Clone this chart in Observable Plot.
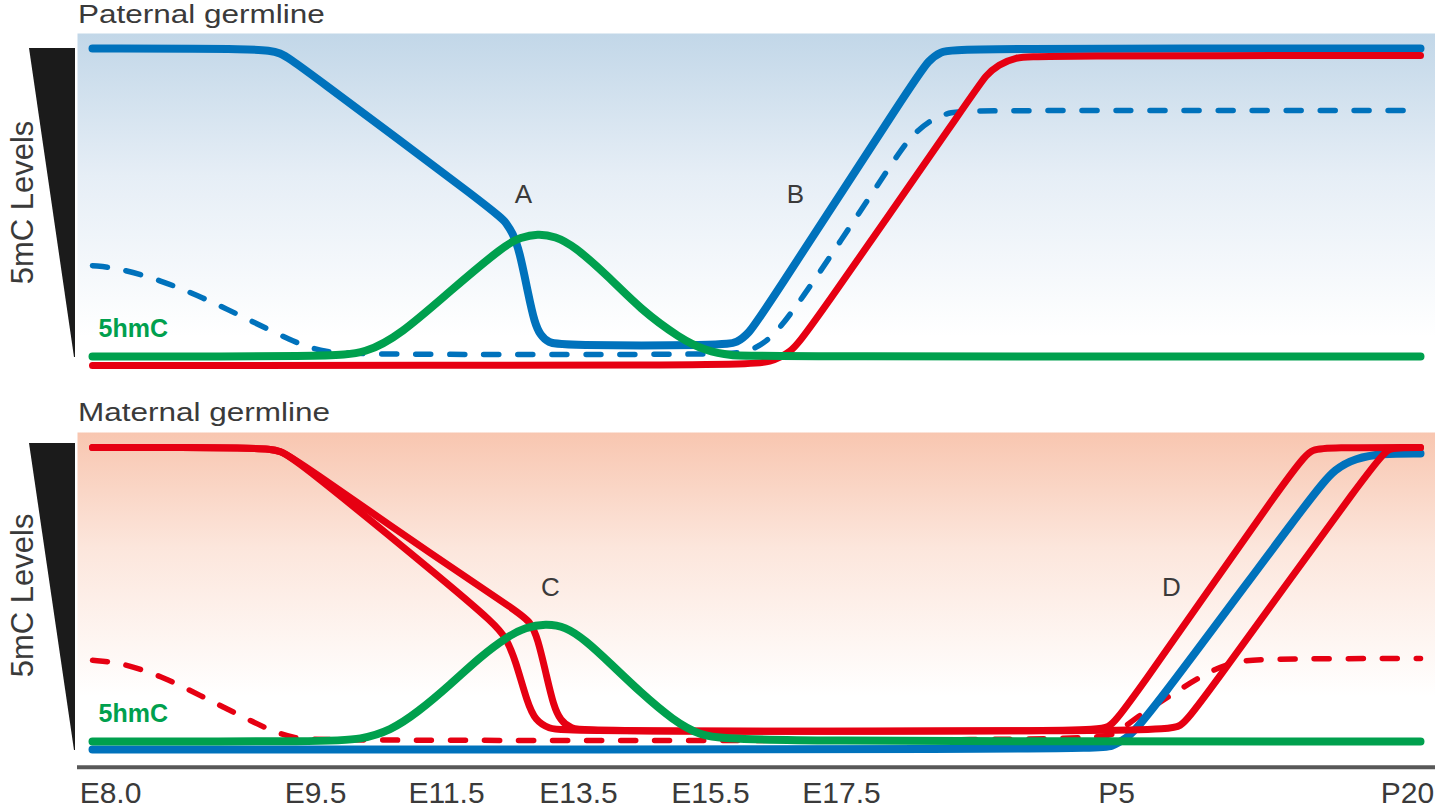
<!DOCTYPE html>
<html>
<head>
<meta charset="utf-8">
<script src="https://cdn.jsdelivr.net/npm/d3@7"></script>
<script src="https://cdn.jsdelivr.net/npm/@observablehq/plot@0.6"></script>
<style>
html, body { margin: 0; padding: 0; background: #fff; }
#root { position: relative; width: 1435px; height: 810px; overflow: hidden; font-family: "Liberation Sans", Arial, sans-serif; }
.ptitle { position: absolute; left: 78px; font-size: 25px; line-height: 25px; color: #3a3a3a; transform: scaleX(1.26); transform-origin: 0 0; white-space: nowrap; }
.panel { position: absolute; left: 0; }
</style>
</head>
<body>
<div id="root">
  <div class="panel" id="topPanel" style="top:0px"></div>
  <div class="panel" id="botPanel" style="top:400px"></div>
  <div class="ptitle" id="t1" style="top:2px"></div>
  <div class="ptitle" id="t2" style="top:400px"></div>
</div>
<script>
// ---------- DATA ----------
// x: position along the developmental timeline (schematic units), y: relative level (0 = baseline, 1 = max)
const xTickPos    = [11.0, 31.5, 44.6, 57.8, 71.0, 84.1, 111.6, 140.7];
const xTickLabels = ["E8.0", "E9.5", "E11.5", "E13.5", "E15.5", "E17.5", "P5", "P20"];

const panelTitles = ["Paternal germline", "Maternal germline"];
const yAxisLabel = "5mC Levels";
const hmcLabel = "5hmC";
const eventLabels = ["A", "B", "C", "D"];

// Paternal germline
const patBlue = [[9.2,1.000],[26.2,1.000],[28.0,0.987],[29.5,0.955],[50.0,0.458],[50.5,0.435],[51.2,0.403],[51.9,0.344],[52.8,0.198],[53.4,0.110],[54.0,0.068],[54.8,0.045],[56.0,0.036],[72.2,0.036],[73.7,0.045],[74.8,0.075],[76.0,0.127],[91.5,0.903],[92.8,0.961],[94.0,0.990],[95.5,1.000],[142,1.000]];
const patBlueDashed = [[9.2,0.295],[12.0,0.286],[16.0,0.247],[20.0,0.195],[25.0,0.117],[29.0,0.052],[32.0,0.016],[35.0,0.006],[72.0,0.006],[74.5,0.013],[76.5,0.042],[79.0,0.127],[89.3,0.636],[91.0,0.714],[93.0,0.769],[95.0,0.795],[97.5,0.799],[142,0.799]];
const patRed = [[9.2,-0.029],[74.5,-0.029],[77.0,-0.019],[79.0,0.013],[80.5,0.068],[97.5,0.864],[98.5,0.912],[99.8,0.948],[101.5,0.971],[103.5,0.977],[142,0.977]];
const pat5hmC = [[9.2,0],[33.0,0],[36.5,0.010],[40.0,0.071],[45.0,0.214],[50.5,0.364],[52.0,0.386],[53.7,0.399],[55.5,0.390],[57.3,0.360],[60.7,0.263],[64.0,0.153],[68.0,0.058],[70.5,0.019],[73.0,0.003],[76.0,0],[142,0]];

// Maternal germline
const matRedA = [[9.2,1.000],[26.2,1.000],[28.0,0.990],[29.8,0.952],[44.0,0.558],[49.5,0.398],[50.6,0.350],[51.5,0.276],[52.7,0.129],[53.5,0.071],[54.8,0.044],[56.5,0.034],[109.5,0.034],[110.8,0.048],[112.0,0.082],[130.0,0.966],[131.2,0.993],[132.8,1.000],[142,1.000]];
const matRedB = [[9.2,1.000],[26.2,1.000],[28.0,0.990],[29.8,0.952],[44.0,0.616],[52.0,0.435],[53.0,0.405],[53.7,0.354],[54.6,0.224],[55.3,0.122],[56.0,0.071],[57.0,0.044],[58.8,0.034],[116.5,0.034],[118.0,0.051],[119.3,0.095],[138.0,0.980],[139.0,0.997],[140.2,1.000],[142,1.000]];
const matBlue = [[9.2,-0.027],[109.5,-0.027],[111.2,-0.017],[112.5,0.010],[114.0,0.048],[131.5,0.854],[133.5,0.929],[135.5,0.963],[138.0,0.980],[142,0.980]];
const matRedDashed = [[9.2,0.276],[12.0,0.269],[16.0,0.224],[20.0,0.156],[24.0,0.088],[27.0,0.037],[29.5,0.010],[32.0,0.003],[109.5,0.003],[111.5,0.024],[113.7,0.085],[116.7,0.150],[120.3,0.228],[123.0,0.269],[125.5,0.282],[142,0.282]];
const mat5hmC = [[9.2,0],[33.0,0],[36.0,0.007],[39.0,0.037],[41.7,0.099],[45.0,0.194],[48.0,0.289],[50.7,0.357],[52.5,0.388],[54.5,0.401],[56.5,0.391],[58.5,0.344],[61.0,0.265],[64.0,0.167],[67.3,0.071],[70.0,0.020],[73.0,0],[142,0]];

// ---------- STYLE / LAYOUT ----------
const BLUE = "#0072bc", RED = "#e60012", GREEN = "#00a04e", INK = "#3a3a3a";
const FONT = "'Liberation Sans', Arial, Helvetica, sans-serif";
const X_DOMAIN = [9.2, 142], X_RANGE = [92, 1420];
const tickLabelOf = new Map(xTickPos.map((p, i) => [p, xTickLabels[i]]));

document.getElementById("t1").textContent = panelTitles[0];
document.getElementById("t2").textContent = panelTitles[1];

const pts = arr => arr.map(([x, v]) => ({x, v}));

function lineMark(arr, color, width, dashed) {
  return Plot.line(pts(arr), {
    x: "x", y: "v", stroke: color, strokeWidth: width, curve: "basis",
    strokeLinecap: "round", strokeLinejoin: "round",
    strokeDasharray: dashed ? "15,19" : null
  });
}

function makePanel(cfg) {
  const marks = [
    Plot.frame({fill: `url(#${cfg.gradId})`, stroke: "none"}),
    Plot.areaX(cfg.wedge, {y: "v", x1: "xl", x2: "xr", fill: "#1b1b1b"}),
    Plot.text([{x: 2.25, v: cfg.yLabelV, t: yAxisLabel}], {x: "x", y: "v", text: "t", rotate: -90, fontSize: 31, fill: INK}),
    ...cfg.lines,
    Plot.text(cfg.letters, {x: "x", y: "v", text: "t", fontSize: 26, fill: INK}),
    Plot.text([{x: 9.8, v: cfg.hmcV, t: hmcLabel}], {x: "x", y: "v", text: "t", textAnchor: "start", fontSize: 25, fontWeight: "bold", fill: GREEN})
  ];
  if (cfg.axisV !== undefined) {
    marks.push(Plot.ruleY([cfg.axisV], {x1: 7.7, x2: 143.5, stroke: "#585858", strokeWidth: 4}));
  }
  const svg = Plot.plot({
    width: 1435,
    height: cfg.height,
    marginTop: cfg.marginTop,
    marginBottom: cfg.marginBottom,
    marginLeft: 77,
    marginRight: 0,
    style: {fontFamily: FONT, fontSize: "30px", color: INK, background: "transparent", overflow: "visible"},
    x: cfg.showAxis
      ? {domain: X_DOMAIN, range: X_RANGE, ticks: xTickPos, tickFormat: d => tickLabelOf.get(d), tickSize: 0, tickPadding: 19, label: null, line: false}
      : {domain: X_DOMAIN, range: X_RANGE, axis: null},
    y: {domain: [0, 1], range: cfg.yRange, axis: null},
    marks
  });
  d3.select(svg).insert("defs", ":first-child").html(cfg.gradDef);
  return svg;
}

const topSvg = makePanel({
  height: 400, marginTop: 33, marginBottom: 10, yRange: [356, 48],
  gradId: "gTop",
  gradDef: `<linearGradient id="gTop" x1="0" y1="0" x2="0" y2="1">
      <stop offset="0" stop-color="#c2d7e8"/><stop offset="0.4" stop-color="#e6eef6"/><stop offset="0.85" stop-color="#ffffff"/></linearGradient>`,
  wedge: [{v: 1.0, xl: 2.9, xr: 7.5}, {v: -0.003, xl: 7.4, xr: 7.5}],
  yLabelV: 0.5,
  hmcV: 0.088,
  letters: [{x: 52.3, v: 0.526, t: eventLabels[0]}, {x: 79.5, v: 0.526, t: eventLabels[1]}],
  lines: [lineMark(patBlueDashed, BLUE, 5.5, true), lineMark(patBlue, BLUE, 8), lineMark(patRed, RED, 7), lineMark(pat5hmC, GREEN, 8)],
  showAxis: false
});

const botSvg = makePanel({
  height: 410, marginTop: 32, marginBottom: 48, yRange: [341, 47],
  gradId: "gBot",
  gradDef: `<linearGradient id="gBot" x1="0" y1="0" x2="0" y2="1">
      <stop offset="0" stop-color="#f8c6b0"/><stop offset="0.35" stop-color="#fce6dc"/><stop offset="0.8" stop-color="#ffffff"/></linearGradient>`,
  wedge: [{v: 1.014, xl: 2.9, xr: 7.5}, {v: -0.031, xl: 7.4, xr: 7.5}],
  yLabelV: 0.497,
  hmcV: 0.095,
  letters: [{x: 55.0, v: 0.524, t: eventLabels[2]}, {x: 117.1, v: 0.524, t: eventLabels[3]}],
  lines: [lineMark(matRedDashed, RED, 5.5, true), lineMark(matBlue, BLUE, 8), lineMark(matRedA, RED, 7), lineMark(matRedB, RED, 7), lineMark(mat5hmC, GREEN, 8)],
  axisV: -0.088,
  showAxis: true
});

document.getElementById("topPanel").appendChild(topSvg);
document.getElementById("botPanel").appendChild(botSvg);
</script>
</body>
</html>
